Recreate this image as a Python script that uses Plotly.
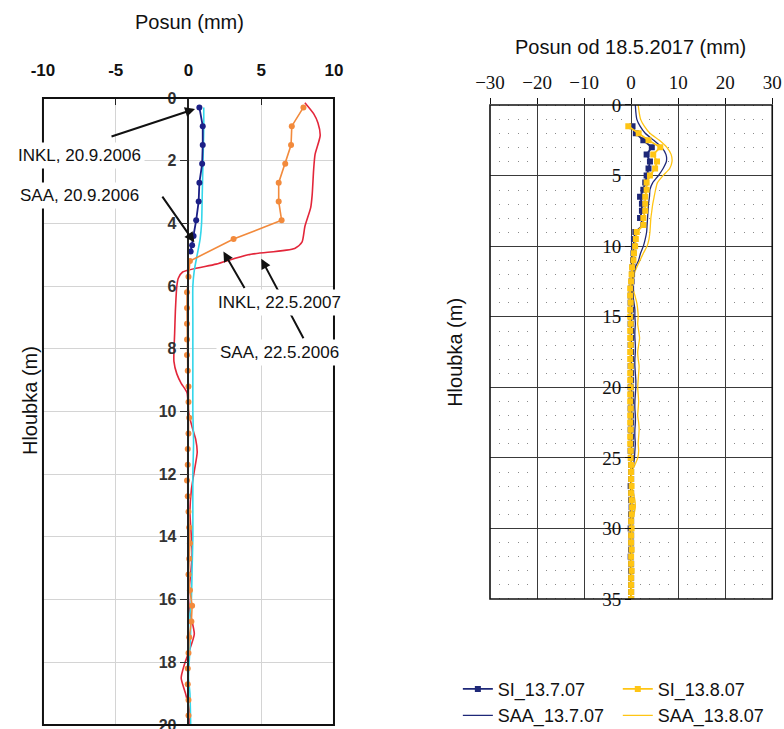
import plotly.graph_objects as go

# ---------------- Left panel: inclinometer vs. SAA (2006/2007) ----------------
inkl_0609_depth = [0.3, 0.9, 1.5, 2.1, 2.7, 3.3, 3.9, 4.4, 4.7, 4.9]
inkl_0609_x = [0.75, 0.98, 0.98, 0.94, 0.75, 0.70, 0.53, 0.35, 0.25, 0.15]

saa_0609_depth = [0.3, 1.0, 2.0, 3.0, 4.0, 4.5, 5.0, 5.5, 6.0, 7.0, 8.0, 9.0, 10.0,
                  11.0, 12.0, 13.0, 14.0, 15.0, 16.0, 16.5, 17.0, 18.0, 18.5, 19.0, 20.0]
saa_0609_x = [1.05, 1.05, 1.0, 0.95, 0.9, 0.8, 0.6, 0.4, 0.3, 0.3, 0.3, 0.3, 0.3,
              0.35, 0.3, 0.3, 0.3, 0.25, 0.2, 0.1, 0.15, 0.05, 0.0, 0.1, 0.15]

inkl_0705_depth = [0.3, 0.9, 1.5, 2.1, 2.7, 3.3, 3.9, 4.5,
                   5.2, 5.7, 6.2, 6.7, 7.2, 7.7, 8.2, 8.7, 9.2, 9.7,
                   10.2, 10.7, 11.2, 11.7, 12.2, 12.7, 13.2, 13.7, 14.2, 14.7,
                   15.2, 15.7, 16.2, 16.7, 17.2, 17.7, 18.2, 18.7, 19.2, 19.7]
inkl_0705_x = [7.9, 7.1, 7.05, 6.65, 6.2, 6.2, 6.4, 3.1,
               0.1, 0.0, -0.1, -0.1, -0.1, -0.1, -0.1, -0.05, 0.0, 0.0,
               0.05, 0.0, -0.05, -0.05, -0.1, -0.05, 0.0, 0.05, 0.1, 0.05,
               0.0, 0.1, 0.25, 0.2, 0.05, 0.0, -0.05, -0.05, 0.0, 0.0]

saa_0605_depth = [0.15, 0.5, 0.8, 1.2, 1.8, 2.3, 3.1, 3.5, 4.1, 4.6,
                  4.8, 5.0, 5.3, 5.55, 5.75, 6.0, 6.8, 7.5, 8.4, 8.8,
                  9.1, 9.4, 10.0, 10.5, 10.9, 11.3, 11.9, 12.5, 13.2, 14.0,
                  14.5, 15.2, 15.9, 16.4, 17.1, 17.7, 18.1, 18.5, 19.0, 19.5, 20.0]
saa_0605_x = [8.0, 8.6, 8.9, 9.05, 8.7, 8.6, 8.5, 8.4, 8.0, 7.8,
              7.3, 4.1, 1.9, -0.4, -0.7, -0.8, -0.9, -0.95, -1.0, -0.8,
              -0.5, -0.1, 0.0, 0.25, 0.5, 0.6, 0.4, 0.2, 0.1, 0.2,
              0.25, 0.15, 0.0, 0.1, 0.4, 0.0, -0.3, -0.5, -0.2, 0.05, 0.1]

left_xticks = [-10, -5, 0, 5, 10]
left_xtext = ["-10", "-5", "0", "5", "10"]
left_yticks = [0, 2, 4, 6, 8, 10, 12, 14, 16, 18, 20]

# ---------------- Right panel: SI vs. SAA (2007) ----------------
si_depth = [1.5, 2.0, 2.5, 3.0, 3.5, 4.0, 4.5, 5.0, 5.5, 6.0,
            6.5, 7.0, 7.5, 8.0, 8.5, 9.0, 9.5, 10.0, 10.5, 11.0,
            11.5, 12.0, 12.5, 13.0, 13.5, 14.0, 14.5, 15.0, 15.5, 16.0,
            16.5, 17.0, 17.5, 18.0, 18.5, 19.0, 19.5, 20.0, 20.5, 21.0,
            21.5, 22.0, 22.5, 23.0, 23.5, 24.0, 24.5, 25.0, 25.5, 26.0,
            26.5, 27.0, 27.5, 28.0, 28.5, 29.0, 29.5, 30.0, 30.5, 31.0,
            31.5, 32.0, 32.5, 33.0, 33.5, 34.0, 34.5, 35.0]
si_137_x = [0.3, 1.0, 2.6, 4.4, 3.3, 4.0, 3.7, 3.3, 3.0, 2.6,
            1.9, 2.3, 2.3, 1.9, 2.6, 0.9, 0.6, 0.6, 0.5, 0.4,
            0.3, 0.2, 0.1, 0.0, -0.1, -0.1, 0.0, 0.0, -0.1, 0.0,
            0.0, -0.1, 0.0, 0.0, -0.1, 0.0, 0.0, -0.1, 0.0, 0.0,
            -0.1, 0.0, 0.0, -0.1, 0.0, 0.0, -0.1, 0.0, 0.0, 0.0,
            0.0, -0.1, 0.0, 0.0, 0.1, 0.0, 0.0, -0.1, 0.0, 0.0,
            0.0, -0.1, 0.0, 0.0, 0.0, 0.0, 0.0, 0.0]
si_138_x = [-0.6, 1.6, 3.7, 6.2, 4.7, 5.5, 5.1, 4.0, 3.3, 3.3,
            3.0, 3.0, 3.0, 2.6, 2.6, 1.2, 1.0, 0.85, 0.6, 0.5,
            0.2, 0.1, 0.0, -0.2, -0.2, -0.1, -0.2, -0.2, -0.1, -0.2,
            -0.2, -0.1, -0.2, -0.2, -0.1, -0.2, -0.2, -0.1, -0.2, -0.2,
            -0.1, -0.2, -0.2, -0.1, -0.2, -0.2, -0.1, -0.1, 0.0, 0.0,
            0.0, 0.1, 0.0, 0.1, 0.2, 0.1, 0.0, 0.1, 0.0, 0.0,
            0.1, 0.0, 0.0, 0.1, 0.0, 0.0, 0.0, 0.0]

saa_depth = [0.0, 0.5, 1.0, 1.5, 2.0, 2.5, 3.0, 3.5, 4.0, 4.5,
             5.0, 5.5, 6.0, 6.5, 7.0, 7.5, 8.0, 8.5, 9.0, 9.5,
             10.0, 10.5, 11.0, 11.5, 12.0, 12.5, 13.0, 13.5, 14.0, 14.5,
             15.0, 15.5, 16.0, 16.5, 17.0, 17.5, 18.0, 18.5, 19.0, 19.5,
             20.0, 20.5, 21.0, 21.5, 22.0, 22.5, 23.0, 23.5, 24.0, 24.5,
             25.0, 25.5, 26.0, 26.5, 27.0, 27.5, 28.0, 28.5, 29.0, 29.5, 30.0]
saa_137_x = [0.9, 1.0, 1.2, 1.9, 3.0, 4.8, 6.5, 7.4, 7.5, 6.8,
             5.8, 4.6, 4.0, 3.9, 3.7, 3.6, 3.5, 3.4, 3.3, 3.0,
             2.6, 2.0, 1.6, 0.9, 0.5, 0.3, 0.2, 0.4, 0.6, 0.8,
             0.8, 0.9, 0.8, 0.8, 0.9, 0.9, 0.8, 0.8, 0.9, 1.0,
             1.0, 0.9, 0.8, 0.8, 0.9, 0.9, 0.8, 0.8, 0.9, 0.8,
             0.7, 0.5, 0.1, 0.0, 0.0, 0.0, 0.1, 0.1, 0.0, 0.0, 0.0]
saa_138_x = [1.5, 1.7, 2.0, 2.8, 4.0, 6.0, 7.6, 8.5, 8.7, 8.2,
             6.8, 5.6, 5.2, 4.9, 4.6, 4.4, 4.2, 4.1, 4.0, 3.8,
             3.4, 2.6, 1.9, 1.2, 0.6, 0.3, 0.4, 0.8, 1.2, 1.4,
             1.5, 1.4, 1.6, 1.8, 1.6, 1.4, 1.5, 1.7, 1.6, 1.5,
             1.4, 1.5, 1.6, 1.5, 1.4, 1.6, 1.7, 1.6, 1.5, 1.6,
             1.4, 0.8, 0.1, 0.0, 0.1, 0.5, 0.8, 0.9, 0.6, 0.2, 0.0]

# ---------------- colours ----------------
NAVY_L = "#1b1f86"
CYAN = "#33d6ea"
ORANGE = "#f28a3c"
RED = "#e3263a"
NAVY_R = "#1e2878"
GOLD = "#ffc514"

SANS = "Arial, Liberation Sans, sans-serif"
SERIF = "Liberation Serif, Times New Roman, serif"

fig = go.Figure()

# left panel traces
fig.add_trace(go.Scatter(x=saa_0605_x, y=saa_0605_depth, mode="lines",
                         line=dict(color=RED, width=1.6, shape="spline", smoothing=0.6),
                         xaxis="x", yaxis="y", showlegend=False, name="SAA, 22.5.2006"))
fig.add_trace(go.Scatter(x=saa_0609_x, y=saa_0609_depth, mode="lines",
                         line=dict(color=CYAN, width=1.6, shape="spline", smoothing=0.6),
                         xaxis="x", yaxis="y", showlegend=False, name="SAA, 20.9.2006"))
fig.add_trace(go.Scatter(x=inkl_0609_x, y=inkl_0609_depth, mode="lines+markers",
                         line=dict(color=NAVY_L, width=1.8),
                         marker=dict(color=NAVY_L, size=6, symbol="circle"),
                         xaxis="x", yaxis="y", showlegend=False, name="INKL, 20.9.2006"))
fig.add_trace(go.Scatter(x=inkl_0705_x, y=inkl_0705_depth, mode="lines+markers",
                         line=dict(color=ORANGE, width=1.6),
                         marker=dict(color=ORANGE, size=6, symbol="circle"),
                         xaxis="x", yaxis="y", showlegend=False, name="INKL, 22.5.2007"))

# right panel traces (two legend columns: 13.7.07 and 13.8.07)
fig.add_trace(go.Scatter(x=saa_137_x, y=saa_depth, mode="lines",
                         line=dict(color=NAVY_R, width=1.3, shape="spline", smoothing=0.5),
                         xaxis="x2", yaxis="y2", name="SAA_13.7.07",
                         legend="legend", legendrank=2))
fig.add_trace(go.Scatter(x=saa_138_x, y=saa_depth, mode="lines",
                         line=dict(color=GOLD, width=1.3, shape="spline", smoothing=0.5),
                         xaxis="x2", yaxis="y2", name="SAA_13.8.07",
                         legend="legend2", legendrank=2))
fig.add_trace(go.Scatter(x=si_137_x, y=si_depth, mode="lines+markers",
                         line=dict(color=NAVY_R, width=1.8),
                         marker=dict(color=NAVY_R, size=6, symbol="square"),
                         xaxis="x2", yaxis="y2", name="SI_13.7.07",
                         legend="legend", legendrank=1))
fig.add_trace(go.Scatter(x=si_138_x, y=si_depth, mode="lines+markers",
                         line=dict(color=GOLD, width=1.8),
                         marker=dict(color=GOLD, size=6, symbol="square"),
                         xaxis="x2", yaxis="y2", name="SI_13.8.07",
                         legend="legend2", legendrank=1))

LX = [0.0548, 0.4260]
LY = [0.0055, 0.8656]
RX = [0.625, 0.985]
RY = [0.1783, 0.856]

legend_common = dict(orientation="v", yanchor="top", xanchor="left",
                     font=dict(family=SANS, size=18, color="#111"),
                     tracegroupgap=0, itemwidth=30, bgcolor="rgba(0,0,0,0)",
                     traceorder="normal")

fig.update_layout(
    width=784, height=729,
    margin=dict(l=0, r=0, t=0, b=0, autoexpand=False),
    paper_bgcolor="white", plot_bgcolor="white",
    font=dict(family=SANS, color="#111"),
    xaxis=dict(domain=LX, anchor="y", range=[-10, 10], side="top",
               tickmode="array", tickvals=left_xticks, ticktext=left_xtext,
               tickfont=dict(family=SANS, size=17, color="#111", weight="bold"),
               ticks="inside", ticklen=7, tickcolor="#222",
               ticklabelstandoff=18,
               showgrid=True, gridcolor="#d4d4d4", gridwidth=1,
               zeroline=False, showline=False),
    yaxis=dict(domain=LY, anchor="free", position=LX[0] + 0.5 * (LX[1] - LX[0]),
               range=[20, 0], tickmode="array", tickvals=left_yticks,
               tickfont=dict(family=SANS, size=16, color="#333", weight="bold"),
               ticks="outside", ticklen=8, tickcolor="#333",
               ticklabeloverflow="allow",
               showgrid=True, gridcolor="#d4d4d4", gridwidth=1,
               zeroline=False, showline=True, linecolor="#222", linewidth=1.5),
    xaxis2=dict(domain=RX, anchor="y2", range=[-30, 30], side="top",
                tickmode="linear", tick0=-30, dtick=10,
                tickfont=dict(family=SERIF, size=19, color="#111"),
                ticks="outside", ticklen=6, tickcolor="#111",
                ticklabelstandoff=1,
                showgrid=True, gridcolor="#3a3a3a", gridwidth=1.2,
                minor=dict(dtick=2, showgrid=True, gridcolor="#8a8a8a", gridwidth=1,
                           griddash="1px,13.1px"),
                zeroline=False, showline=False),
    yaxis2=dict(domain=RY, anchor="free", position=RX[0] + 0.5 * (RX[1] - RX[0]),
                range=[35, 0], tickmode="linear", tick0=0, dtick=5,
                tickfont=dict(family=SERIF, size=19, color="#111"),
                ticks="outside", ticklen=6, tickcolor="#111",
                showgrid=True, gridcolor="#3a3a3a", gridwidth=1.2,
                zeroline=False, showline=False),
    legend=dict(x=0.584, y=0.08, **legend_common),
    legend2=dict(x=0.788, y=0.08, **legend_common),
    shapes=[
        dict(type="rect", xref="x domain", yref="y domain", x0=0, x1=1, y0=0, y1=1,
             line=dict(color="#111", width=2), layer="above"),
        dict(type="rect", xref="x2 domain", yref="y2 domain", x0=0, x1=1, y0=0, y1=1,
             line=dict(color="#111", width=1.6), layer="above"),
    ],
)

annotations = []
# arrows of the left panel
arrow_style = dict(showarrow=True, arrowhead=2, arrowsize=1, arrowwidth=2,
                   arrowcolor="#111", text="", xref="x", yref="y")
annotations.append(dict(x=0.45, y=0.35, ax=-85, ay=28, **arrow_style))
annotations.append(dict(x=0.4, y=4.6, ax=-33, ay=-47, **arrow_style))
annotations.append(dict(x=2.4, y=4.9, ax=22, ay=38, **arrow_style))
annotations.append(dict(x=5.0, y=5.13, ax=43, ay=81, **arrow_style))

centered = dict(showarrow=False, xref="paper", yref="paper",
                xanchor="center", yanchor="middle")
label_style = dict(bgcolor="white", borderpad=3,
                   font=dict(family=SANS, size=17, color="#111"), **centered)
annotations.append(dict(x=0.102, y=0.787, text="INKL, 20.9.2006", **label_style))
annotations.append(dict(x=0.102, y=0.7325, text="SAA, 20.9.2006", **label_style))
annotations.append(dict(x=0.357, y=0.5844, text="INKL, 22.5.2007", **label_style))
annotations.append(dict(x=0.357, y=0.5158, text="SAA, 22.5.2006", **label_style))

# axis titles
title_font = dict(family=SANS, size=20, color="#111")
annotations.append(dict(x=0.2423, y=0.9698, text="Posun (mm)", font=title_font, **centered))
annotations.append(dict(x=0.038, y=0.451, text="Hloubka (m)", textangle=-90,
                        font=title_font, **centered))
annotations.append(dict(x=0.8036, y=0.9355, text="Posun od 18.5.2017 (mm)",
                        font=title_font, **centered))
annotations.append(dict(x=0.580, y=0.517, text="Hloubka (m)", textangle=-90,
                        font=title_font, **centered))

fig.update_layout(annotations=annotations)

fig.write_html("out.html")
